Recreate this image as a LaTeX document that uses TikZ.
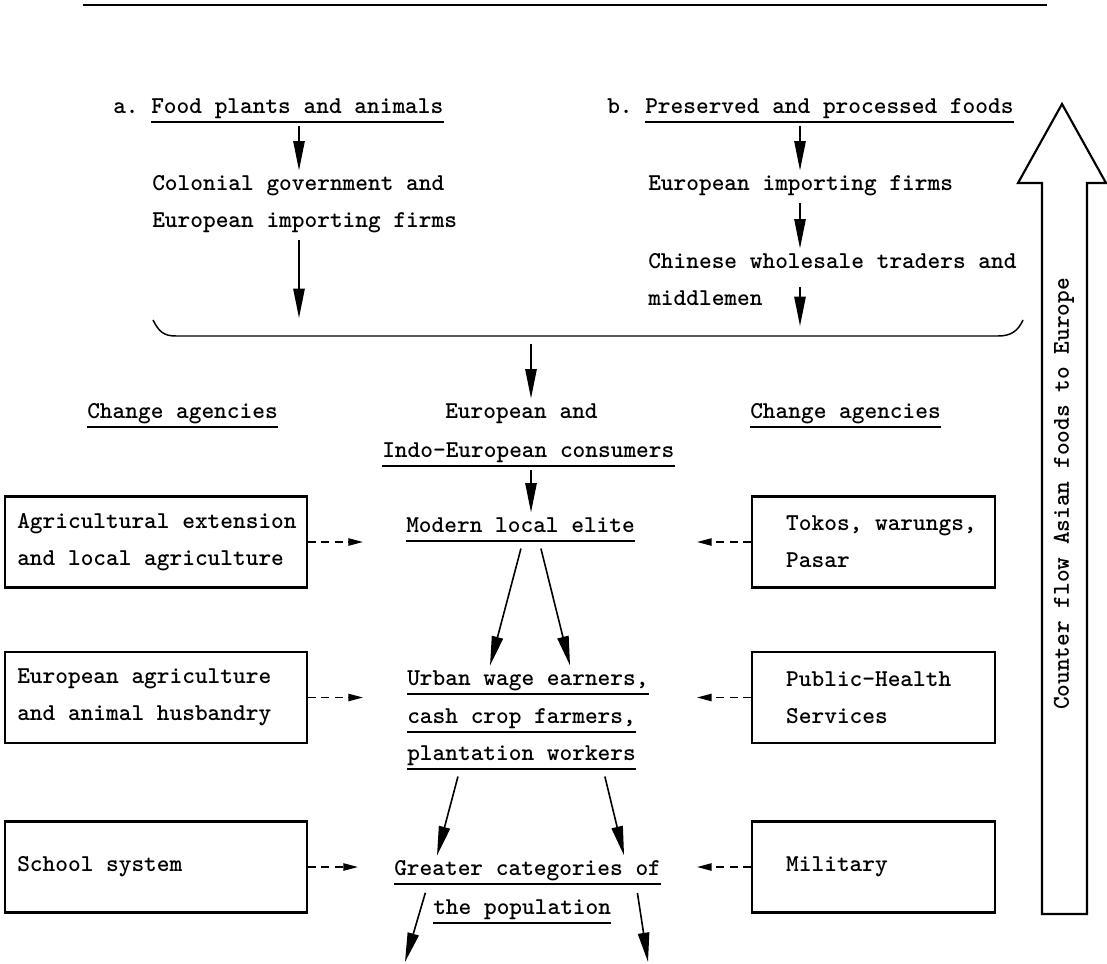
\documentclass[tikz,border=0pt]{standalone}
\usepackage{tikz}
\usetikzlibrary{arrows.meta}

\newcommand{\typefont}{\fontsize{18.14}{27.75}\selectfont\ttfamily\bfseries}

\tikzset{
  txt/.style={font=\typefont, inner sep=0pt, text height=11.5pt, text depth=6.4pt, anchor=base west},
  boxtxt/.style={font=\typefont, inner sep=0pt, align=left, anchor=west},
  agbox/.style={draw, line width=1.6pt, minimum height=68.25pt, inner sep=0pt},
  lbox/.style={agbox, minimum width=226.2pt},
  rbox/.style={agbox, minimum width=182.25pt},
  arr/.style={line width=1.2pt, -{Triangle[length=22pt,width=8.5pt]}, shorten <=3pt, shorten >=3pt},
  darr/.style={line width=1.1pt, dash pattern=on 6pt off 4pt, -{Triangle[length=11pt,width=5.5pt]}},
  uline/.style={line width=1.3pt},
}

\begin{document}
\begin{tikzpicture}[x=0.75pt,y=0.75pt,yscale=-1,xscale=1]
    \useasboundingbox (0,0) rectangle (1107,964);

    %Straight Lines: top rule
    \draw [line width=2.2pt] (83,5) -- (1047,5) ;

    % Text Node: column a
    \node [txt] (labA) at (113,113) {a.};
    \node [txt] (foodA) at (151,113) {Food plants and animals};
    \node [txt] (colA) at (152,190) {Colonial government and};
    \node [txt] (eimpA) at (152,227) {European importing firms};
    % Text Node: column b
    \node [txt] (labB) at (607,113) {b.};
    \node [txt] (pres) at (645,113) {Preserved and processed foods};
    \node [txt] (eimpB) at (648,190) {European importing firms};
    \node [txt] (chin) at (648,268) {Chinese wholesale traders and};
    \node [txt] (midd) at (648,305) {middlemen};

    %Shape: Brace
    \coordinate (aend) at (299,322);
    \coordinate (bend) at (800,330);
    \coordinate (cstart) at (531,336);
    \draw [line width=1.1pt] (153,320) .. controls (159,332) and (164,336) .. (176,336) -- (998,336) .. controls (1011,336) and (1018,331) .. (1023,320) ;

    % Text Node: middle column
    \node [txt] (chgL) at (87,418) {Change agencies};
    \node [txt] (euand) at (445,418) {European and};
    \node [txt] (indo) at (382,457) {Indo-European consumers};
    \node [txt] (chgR) at (750,418) {Change agencies};
    \node [txt] (elite) at (406,532) {Modern local elite};
    \node [txt] (urban) at (407,685) {Urban wage earners,};
    \node [txt] (cash) at (407,723) {cash crop farmers,};
    \node [txt] (plant) at (407,760) {plantation workers};
    \node [txt] (great) at (394,875) {Greater categories of};
    \node [txt] (popul) at (433,914) {the population};

    \foreach \n in {foodA,pres,chgL,chgR,indo,elite,urban,cash,plant,great,popul}
      \draw [uline] (\n.south west) -- (\n.south east) ;

    %Shape: Rectangle (left agencies)
    \node [lbox] (agext) at (156.2,542) {};
    \node [boxtxt] (agextT) at ([xshift=9.5pt]agext.west) {Agricultural extension\\and local agriculture};
    \node [lbox] (euagr) at (156.2,697.5) {};
    \node [boxtxt] (euagrT) at ([xshift=9.5pt]euagr.west) {European agriculture\\and animal husbandry};
    \node [lbox] (school) at (156.2,867) {};
    \node [boxtxt] (schoolT) at ([xshift=9.5pt]school.west) {School system};

    %Shape: Rectangle (right agencies)
    \node [rbox] (tokos) at (873.5,542) {};
    \node [boxtxt] (tokosT) at ([xshift=26.25pt]tokos.west) {Tokos, warungs,\\Pasar};
    \node [rbox] (health) at (873.5,697.5) {};
    \node [boxtxt] (healthT) at ([xshift=26.25pt]health.west) {Public-Health\\Services};
    \node [rbox] (milit) at (873.5,867) {};
    \node [boxtxt] (militT) at ([xshift=26.25pt]milit.west) {Military};

    %Straight Lines: dashed influence arrows
    \draw [darr] (agext.east) -- (agext.east -| 363,0) ;
    \draw [darr] (euagr.east) -- (euagr.east -| 363,0) ;
    \draw [darr] (school.east) -- (school.east -| 358,0) ;
    \draw [darr] (tokos.west) -- (tokos.west -| 697,0) ;
    \draw [darr] (health.west) -- (health.west -| 697,0) ;
    \draw [darr] (milit.west) -- (milit.west -| 697,0) ;

    %Straight Lines: food flow
    \draw [arr] (foodA.south -| aend) -- (colA.north -| aend) ;
    \draw [arr] (eimpA.south -| aend) -- (aend) ;
    \draw [arr] (pres.south -| bend) -- (eimpB.north -| bend) ;
    \draw [arr] (eimpB.south -| bend) -- (chin.north -| bend) ;
    \draw [arr, shorten <=8pt] (chin.south -| bend) -- (bend) ;
    \draw [arr, shorten <=6pt] (cstart) -- (euand.north -| cstart) ;
    \draw [arr] (indo.south -| cstart) -- (elite.north -| cstart) ;
    \draw [arr, shorten <=6pt] (elite.south -| 523,0) -- (urban.north -| 489,0) ;
    \draw [arr, shorten <=6pt] (elite.south -| 539,0) -- (urban.north -| 571,0) ;
    \draw [arr, shorten <=6pt] (plant.south -| 460,0) -- (great.north -| 436,0) ;
    \draw [arr, shorten <=6pt] (plant.south -| 603,0) -- (great.north -| 625,0) ;
    \coordinate (outL) at (405,962);
    \coordinate (outR) at (648,962);
    \draw [arr, shorten <=7pt, shorten >=0pt] (great.south -| 428,0) -- (outL) ;
    \draw [arr, shorten <=7pt, shorten >=0pt] (great.south -| 636,0) -- (outR) ;

    %Shape: Up Arrow (counter flow)
    \draw [line width=1.6pt, line join=miter] (1042,914) -- (1042,183) -- (1018,183) -- (1062,104) -- (1106,183) -- (1087,183) -- (1087,914) -- cycle ;
    \node [font=\typefont, inner sep=0pt, rotate=90] (cflow) at (1064,494) {Counter flow Asian foods to Europe};

\end{tikzpicture}
\end{document}
